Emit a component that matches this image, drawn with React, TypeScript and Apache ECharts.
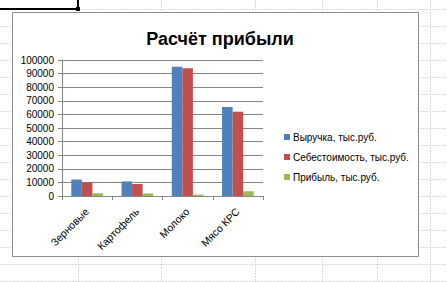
import React, { useEffect, useRef } from "react";
import * as echarts from "echarts";

const categories = ["Зерновые", "Картофель", "Молоко", "Мясо КРС"];
const revenue = [12100, 10700, 95000, 65500];
const cost = [10000, 8800, 94000, 62000];
const profit = [2000, 1900, 1000, 3500];
const seriesNames = ["Выручка, тыс.руб.", "Себестоимость, тыс.руб.", "Прибыль, тыс.руб."];
const titleText = "Расчёт прибыли";

const W = 447;
const H = 282;
const FONT = "'Liberation Sans', Arial, sans-serif";

function sheetGrid() {
  const els: any[] = [];
  const gridColor = "#d9d9d9";
  for (let y = 9; y <= H; y += 17) {
    els.push({
      type: "line",
      z: -10,
      shape: { x1: 0, y1: y + 0.5, x2: W, y2: y + 0.5 },
      style: { stroke: gridColor, lineWidth: 1, lineDash: [2, 1] },
      silent: true,
    });
  }
  [78, 161, 255, 322, 377, 430].forEach((x) => {
    els.push({
      type: "line",
      z: -10,
      shape: { x1: x + 0.5, y1: 0, x2: x + 0.5, y2: H },
      style: { stroke: gridColor, lineWidth: 1, lineDash: [2, 1] },
      silent: true,
    });
  });
  els.push({
    type: "rect",
    z: -5,
    shape: { x: 0, y: 8, width: 78, height: 2 },
    style: { fill: "#000" },
    silent: true,
  });
  els.push({
    type: "rect",
    z: -5,
    shape: { x: 77, y: 0, width: 2, height: 10 },
    style: { fill: "#000" },
    silent: true,
  });
  els.push({
    type: "rect",
    z: -5,
    shape: { x: 76, y: 7, width: 4, height: 4 },
    style: { fill: "#000" },
    silent: true,
  });
  els.push({
    type: "rect",
    z: -4,
    shape: { x: 12.5, y: 12.5, width: 406, height: 244 },
    style: { fill: "#ffffff", stroke: "#8c8c8c", lineWidth: 1 },
    silent: true,
  });
  return els;
}

export default function App() {
  const ref = useRef<HTMLDivElement>(null);

  useEffect(() => {
    if (!ref.current) return;
    const chart = echarts.init(ref.current, undefined, { renderer: "svg" });
    const colors = ["#4F81BD", "#C0504D", "#9BBB59"];
    const data = [revenue, cost, profit];
    chart.setOption({
      animation: false,
      backgroundColor: "#ffffff",
      color: colors,
      textStyle: { fontFamily: FONT },
      graphic: sheetGrid(),
      title: {
        text: titleText,
        left: 215,
        textAlign: "center",
        top: 25,
        textStyle: { fontSize: 18, fontWeight: "bold", color: "#000", fontFamily: FONT },
      },
      legend: {
        orient: "vertical",
        left: 279,
        top: 126,
        icon: "rect",
        itemWidth: 6,
        itemHeight: 6,
        itemGap: 8,
        textStyle: { fontSize: 10, color: "#000", fontFamily: FONT, lineHeight: 12, padding: [0, 0, 0, -2] },
        data: seriesNames,
      },
      grid: { left: 62, right: 184, top: 60, bottom: 86, containLabel: false },
      xAxis: {
        type: "category",
        data: categories,
        axisLine: { lineStyle: { color: "#868686" } },
        axisTick: { show: true, length: 4, lineStyle: { color: "#868686" } },
        axisLabel: { rotate: 45, fontSize: 10.5, color: "#000", margin: 14, fontFamily: FONT },
      },
      yAxis: {
        type: "value",
        min: 0,
        max: 100000,
        interval: 10000,
        axisLine: { show: true, lineStyle: { color: "#868686" } },
        axisTick: { show: true, length: 4, lineStyle: { color: "#868686" } },
        axisLabel: {
          fontSize: 10,
          color: "#000",
          margin: 8,
          fontFamily: FONT,
          formatter: (v: number) => String(v),
        },
        splitLine: { lineStyle: { color: "#868686", width: 1 } },
      },
      series: seriesNames.map((name, i) => ({
        name,
        type: "bar",
        data: data[i],
        barWidth: "21%",
        barGap: "0%",
        itemStyle: { color: colors[i] },
      })),
    });
    return () => chart.dispose();
  }, []);

  return (
    <div
      ref={ref}
      style={{ position: "absolute", left: 0, top: 0, width: W, height: H }}
    />
  );
}
